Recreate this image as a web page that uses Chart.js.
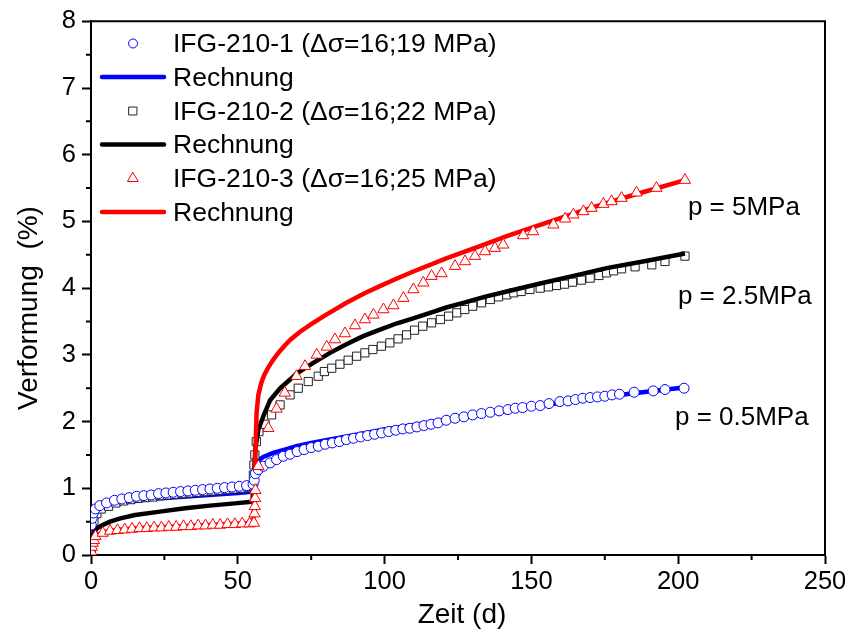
<!DOCTYPE html>
<html>
<head>
<meta charset="utf-8">
<script src="https://cdn.jsdelivr.net/npm/chart.js@4.4.1/dist/chart.umd.min.js"></script>
<style>
  html, body { margin: 0; padding: 0; background: #fff; }
  #wrap { width: 852px; height: 635px; }
</style>
</head>
<body>
<div id="wrap"><canvas id="creepChart" width="852" height="635"></canvas></div>
<script>
// IFG-210-1 (p = 0.5 MPa)
const days1 = [0.1, 0.4, 0.8, 1.5, 3, 5.3, 8, 10.5, 13, 15.5, 18, 20.5, 23, 25.5, 28, 30.5, 33, 35.5, 38, 40.5, 43, 45.5, 48, 50.5, 53, 55.2, 55.6, 56, 57,
  58.7, 61, 63.2, 65.5, 67.8, 70.2, 72.6, 75, 77.4, 79.8, 82.2, 84.6, 87, 89.4, 91.8, 94.2, 96.6, 99, 101.4, 103.8, 106.2, 108.6, 111, 113.4, 115.8, 118.2,
  121, 124, 127, 130, 133, 136, 139, 142, 144.5, 147, 150, 153, 156, 159.7, 162.5, 165, 167.5, 170, 172.5, 175, 177.5, 180, 185, 191.5, 195.5, 202];
const strain1 = [0.45, 0.55, 0.63, 0.69, 0.74, 0.78, 0.82, 0.84, 0.86, 0.88, 0.89, 0.9, 0.92, 0.93, 0.94, 0.95, 0.96, 0.97, 0.98, 0.99, 1.0, 1.01, 1.02, 1.03, 1.04, 1.06, 1.12, 1.22, 1.28,
  1.33, 1.38, 1.43, 1.48, 1.51, 1.55, 1.58, 1.61, 1.63, 1.66, 1.68, 1.7, 1.73, 1.75, 1.77, 1.79, 1.81, 1.83, 1.85, 1.87, 1.89, 1.9, 1.92, 1.94, 1.96, 1.98,
  2.02, 2.05, 2.07, 2.1, 2.12, 2.14, 2.16, 2.18, 2.2, 2.21, 2.23, 2.24, 2.27, 2.3, 2.31, 2.33, 2.35, 2.36, 2.37, 2.38, 2.4, 2.41, 2.44, 2.46, 2.48, 2.5];
const calcDays1 = [0, 0.2, 0.6, 1.5, 3, 6, 10, 15, 20, 30, 40, 50, 55, 55.5, 56, 57, 58.7, 62, 66, 70, 75, 80, 90, 100, 110, 120, 130, 140, 150, 160, 170, 180, 190, 202];
const calc1 = [0, 0.45, 0.58, 0.66, 0.71, 0.75, 0.78, 0.81, 0.84, 0.87, 0.9, 0.93, 0.95, 1.1, 1.3, 1.42, 1.47, 1.53, 1.58, 1.63, 1.68, 1.72, 1.8, 1.88, 1.95, 2.02, 2.09, 2.15, 2.22, 2.28, 2.34, 2.4, 2.45, 2.51];

// IFG-210-2 (p = 2.5 MPa)
const days2 = [0.1, 0.3, 0.6, 1, 2, 3.5, 6, 8.5, 11, 13.5, 16, 18.5, 21, 23.5, 26, 28.5, 31, 33.5, 36, 38.5, 41, 43.5, 46, 48.5, 51, 53.5, 55,
  55.3, 55.5, 55.8, 56.3, 57.2, 59.3, 61.5, 64.4, 67.8, 70.6, 74, 77.4, 79.5, 82, 84.8, 87.6, 90.5, 93.3, 96, 98.9, 101.8, 104.6, 107.5, 110.2, 113,
  116, 119, 121.8, 124.6, 127.3, 130, 133, 136, 138.8, 141.6, 144, 146.5, 149.5, 153, 155.8, 158.6, 161.3, 164, 167, 170, 173, 175.6, 178, 180.7,
  185.3, 191, 195.5, 202.3];
const strain2 = [0.1, 0.2, 0.3, 0.5, 0.62, 0.69, 0.73, 0.78, 0.81, 0.83, 0.85, 0.86, 0.87, 0.89, 0.9, 0.91, 0.92, 0.93, 0.94, 0.95, 0.96, 0.97, 0.98, 0.99, 1.0, 1.01, 1.03,
  1.2, 1.35, 1.5, 1.7, 1.85, 1.96, 2.1, 2.25, 2.4, 2.5, 2.6, 2.68, 2.75, 2.8, 2.86, 2.92, 2.98, 3.03, 3.08, 3.13, 3.18, 3.24, 3.3, 3.37, 3.43,
  3.48, 3.53, 3.58, 3.63, 3.68, 3.73, 3.78, 3.83, 3.87, 3.9, 3.93, 3.95, 3.98, 4.0, 4.02, 4.04, 4.06, 4.09, 4.12, 4.15, 4.19, 4.23, 4.26, 4.29,
  4.32, 4.35, 4.4, 4.48];
const calcDays2 = [0, 0.3, 0.8, 2, 4, 6.5, 10, 15, 23.5, 32, 40.5, 48, 55, 55.5, 56, 57, 58.7, 61, 64.4, 67.8, 70, 75.7, 81.4, 87, 92.7, 98, 104, 110, 115.5, 121, 126.8, 134, 141.6, 153, 164, 175.6, 188, 202.3];
const calc2 = [0, 0.2, 0.33, 0.4, 0.45, 0.5, 0.55, 0.6, 0.65, 0.7, 0.74, 0.77, 0.8, 1.2, 1.6, 1.88, 2.08, 2.32, 2.5, 2.63, 2.72, 2.88, 3.03, 3.16, 3.28, 3.37, 3.47, 3.55, 3.63, 3.71, 3.78, 3.87, 3.95, 4.07, 4.18, 4.3, 4.4, 4.52];

// IFG-210-3 (p = 5 MPa)
const days3 = [0.1, 0.3, 0.6, 1, 1.5, 4, 6.5, 9, 11.5, 14, 16.5, 19, 21.5, 24, 26.5, 29, 31.5, 34, 36.5, 39, 41.5, 44, 46.5, 49, 51.5, 54, 55.5,
  55.7, 55.8, 55.9, 56, 57, 60.4, 63.2, 66, 70, 72.9, 76.9, 80.3, 83.1, 86.5, 89.9, 93.3, 96.2, 99.6, 103, 106.4, 109.8, 113.2, 116, 119.4,
  124, 127.4, 130.8, 134.2, 137.6, 140.4, 147.2, 150.6, 157.5, 161.5, 164.3, 167.7, 170.5, 174.5, 177.3, 180.7, 185.8, 192.6, 202.3];
const strain3 = [0.05, 0.12, 0.18, 0.22, 0.28, 0.33, 0.36, 0.37, 0.38, 0.39, 0.4, 0.4, 0.41, 0.41, 0.42, 0.42, 0.43, 0.43, 0.44, 0.44, 0.45, 0.45, 0.46, 0.46, 0.47, 0.47, 0.48,
  0.62, 0.73, 0.85, 0.97, 1.33, 1.9, 2.19, 2.43, 2.68, 2.83, 3.0, 3.12, 3.23, 3.32, 3.44, 3.53, 3.6, 3.68, 3.74, 3.85, 3.98, 4.08, 4.18, 4.22,
  4.33, 4.4, 4.48, 4.55, 4.6, 4.65, 4.79, 4.85, 4.95, 5.04, 5.1, 5.15, 5.2, 5.26, 5.3, 5.35, 5.43, 5.5, 5.62];
const calcDays3 = [0, 0.3, 1, 2, 4, 8, 15, 25, 35, 45, 55.3, 55.6, 55.9, 56.4, 57, 58, 59, 60.5, 62.1, 64, 66, 68, 71, 75, 80, 87, 93, 98.4, 104, 109.8, 121.2, 132.5, 141.6, 155, 170, 185, 202.3];
const calc3 = [0, 0.15, 0.25, 0.3, 0.34, 0.37, 0.4, 0.42, 0.44, 0.46, 0.48, 1.0, 1.4, 2.13, 2.4, 2.58, 2.7, 2.82, 2.93, 3.04, 3.14, 3.23, 3.34, 3.46, 3.6, 3.78, 3.92, 4.03, 4.14, 4.25, 4.45, 4.63, 4.78, 4.98, 5.2, 5.4, 5.62];

const xTicks = [0, 50, 100, 150, 200, 250];
const yTicks = [0, 1, 2, 3, 4, 5, 6, 7, 8];
const legendLabels = ['IFG-210-1 (\u0394\u03c3=16;19 MPa)', 'Rechnung', 'IFG-210-2 (\u0394\u03c3=16;22 MPa)', 'Rechnung', 'IFG-210-3 (\u0394\u03c3=16;25 MPa)', 'Rechnung'];
const pressureLabels = ['p = 0.5MPa', 'p = 2.5MPa', 'p = 5MPa'];

const FONT = '"Liberation Sans", Arial, Helvetica, sans-serif';
const BLUE = '#0000ff', BLACK = '#000000', RED = '#ff0000';

const pts = (xs, ys) => xs.map((x, i) => ({ x, y: ys[i] }));

const marker = (label, xs, ys, color, style, r, order) => ({
  label, data: pts(xs, ys), showLine: false, order,
  pointStyle: style, pointRadius: r, pointHoverRadius: r,
  pointBorderColor: color, pointBackgroundColor: '#ffffff', pointBorderWidth: 1
});
const calcLine = (xs, ys, color, order) => ({
  label: 'Rechnung', data: pts(xs, ys), showLine: true, order,
  borderColor: color, borderWidth: 4.5, pointRadius: 0, tension: 0, fill: false
});

// minor ticks, frame, titles, legend and pressure labels
const decorations = {
  id: 'decorations',
  afterDraw(chart) {
    const { ctx, chartArea: a, scales: { x, y } } = chart;
    ctx.save();
    ctx.strokeStyle = '#000';
    ctx.lineWidth = 2;
    ctx.beginPath();
    ctx.moveTo(a.left, a.top); ctx.lineTo(a.right, a.top); ctx.lineTo(a.right, a.bottom);
    for (let v = 25; v < 250; v += 50) {
      const px = x.getPixelForValue(v);
      ctx.moveTo(px, a.bottom); ctx.lineTo(px, a.bottom + 5);
    }
    for (let v = 0.5; v < 8; v += 1) {
      const py = y.getPixelForValue(v);
      ctx.moveTo(a.left, py); ctx.lineTo(a.left - 5, py);
    }
    ctx.stroke();

    ctx.fillStyle = '#000';
    ctx.font = '28px ' + FONT;
    ctx.textAlign = 'center';
    ctx.textBaseline = 'middle';
    ctx.fillText('Zeit (d)', 462, 615);
    ctx.save();
    ctx.translate(29, 308);
    ctx.rotate(-Math.PI / 2);
    ctx.fillText('Verformung  (%)', 0, 0);
    ctx.restore();

    // legend
    ctx.font = '26.5px ' + FONT;
    ctx.textAlign = 'left';
    const rowY = [43.5, 77, 111, 144.5, 178.5, 212];
    const legendMarks = [
      { style: 'circle', r: 4.5, color: BLUE }, { line: BLUE },
      { style: 'rect', r: 5.6, color: '#222' }, { line: BLACK },
      { style: 'triangle', r: 6, color: RED }, { line: RED }
    ];
    legendMarks.forEach((m, i) => {
      const cy = rowY[i];
      if (m.line) {
        ctx.strokeStyle = m.line;
        ctx.lineWidth = 4.5;
        ctx.lineCap = 'round';
        ctx.beginPath(); ctx.moveTo(102, cy); ctx.lineTo(164, cy); ctx.stroke();
      } else {
        ctx.strokeStyle = m.color;
        ctx.fillStyle = '#fff';
        ctx.lineWidth = 1;
        Chart.helpers.drawPoint(ctx, { pointStyle: m.style, radius: m.r, rotation: 0, borderWidth: 1 }, 133, cy);
      }
      ctx.fillStyle = '#000';
      ctx.fillText(legendLabels[i], 173, cy + 1.5);
    });

    // pressure labels next to the curve ends
    ctx.font = '26px ' + FONT;
    ctx.fillText(pressureLabels[0], x.getPixelForValue(198.9), y.getPixelForValue(2.06));
    ctx.fillText(pressureLabels[1], x.getPixelForValue(199.9), y.getPixelForValue(3.87));
    ctx.fillText(pressureLabels[2], x.getPixelForValue(203.3), y.getPixelForValue(5.21));
    ctx.restore();
  }
};

new Chart(document.getElementById('creepChart'), {
  type: 'scatter',
  data: {
    datasets: [
      marker('IFG-210-3', days3, strain3, RED, 'triangle', 6.5, 0),
      marker('IFG-210-1', days1, strain1, BLUE, 'circle', 5, 1),
      calcLine(calcDays3, calc3, RED, 2),
      calcLine(calcDays2, calc2, BLACK, 3),
      marker('IFG-210-2', days2, strain2, '#222', 'rect', 5.8, 4),
      calcLine(calcDays1, calc1, BLUE, 5)
    ]
  },
  options: {
    responsive: false,
    animation: false,
    events: [],
    layout: { padding: { top: 21, right: 27, left: 0, bottom: 0 } },
    plugins: { legend: { display: false }, tooltip: { enabled: false } },
    scales: {
      x: {
        type: 'linear', min: 0, max: 250,
        afterFit: s => { s.height = 80; },
        afterBuildTicks: s => { s.ticks = xTicks.map(v => ({ value: v })); },
        ticks: { color: '#000', font: { family: FONT, size: 25.5 }, padding: 3, maxRotation: 0 },
        grid: { drawOnChartArea: false, drawTicks: true, tickLength: 9, tickWidth: 2, tickColor: '#000' },
        border: { display: true, color: '#000', width: 2 }
      },
      y: {
        type: 'linear', min: 0, max: 8,
        afterFit: s => { s.width = 91; },
        afterBuildTicks: s => { s.ticks = yTicks.map(v => ({ value: v })); },
        ticks: { color: '#000', font: { family: FONT, size: 25.5 }, padding: 6 },
        grid: { drawOnChartArea: false, drawTicks: true, tickLength: 9, tickWidth: 2, tickColor: '#000' },
        border: { display: true, color: '#000', width: 2 }
      }
    }
  },
  plugins: [decorations]
});
</script>
</body>
</html>
